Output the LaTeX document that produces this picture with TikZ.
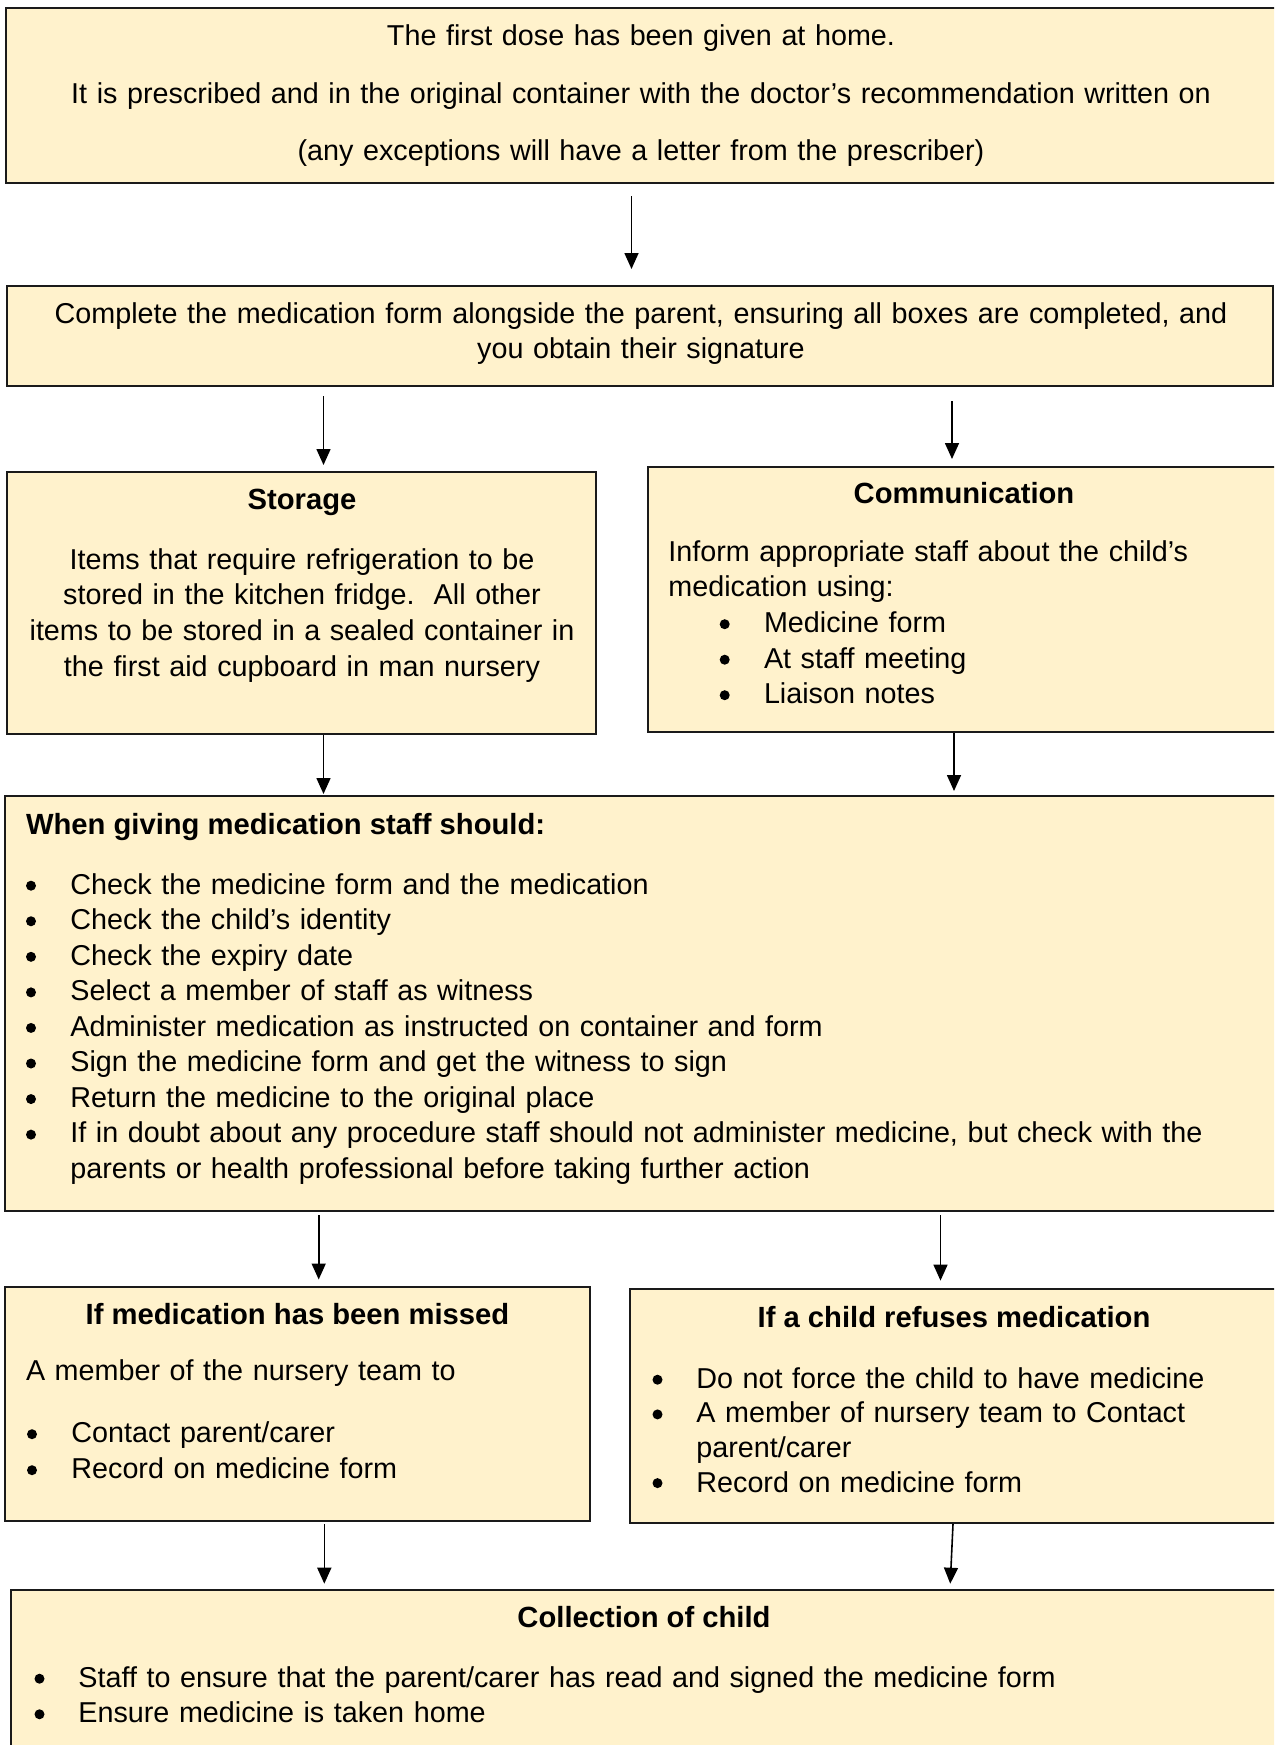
\documentclass[tikz,border=0pt]{standalone}
\usepackage{fontspec}
\setmainfont{Liberation Sans}
\usetikzlibrary{fit,arrows.meta}
\definecolor{boxfill}{HTML}{FFF2CC}
\definecolor{boxline}{HTML}{1A1A1A}
\begin{document}
\begin{tikzpicture}[x=0.5pt,y=-0.5pt,
  box/.style={draw=boxline, line width=1pt, fill=boxfill, inner sep=0pt},
  arr/.style={draw=black, line width=0.8pt, -{Triangle[width=7pt,length=8pt]}},
  ctr/.style={inner sep=0pt, text width=620pt, align=center, anchor=base, font=\fontsize{14.37}{17.78}\selectfont},
  lft/.style={inner sep=0pt, text width=600pt, align=left, anchor=base west, font=\fontsize{14.37}{17.78}\selectfont},
  ttl/.style={inner sep=0pt, anchor=base, font=\fontsize{14.6}{17.78}\selectfont\bfseries},
  bul/.style={fill=black}]
\useasboundingbox (0,0) rectangle (1274,1745);
\clip (0,0) rectangle (1274,1745);

% boxes
\node[box, fit={(6,8) (1290,183)}] (b1) {};
\node[box, fit={(7,286) (1273,386)}] (b2) {};
\node[box, fit={(7,472) (596,734)}] (stor) {};
\node[box, fit={(648,467) (1290,732)}] (comm) {};
\node[box, fit={(4.5,796) (1290,1210.5)}] (give) {};
\node[box, fit={(5,1287) (590,1521)}] (miss) {};
\node[box, fit={(630,1289) (1290,1523)}] (refu) {};
\node[box, fit={(11,1590) (1290,1800)}] (coll) {};

% texts
\node[ctr, font=\fontsize{14.37}{29}\selectfont] (t1) at (641,45) {The first dose has been given at home.\\
It is prescribed and in the original container with the doctor’s recommendation written on\\
(any exceptions will have a letter from the prescriber)};

\node[ctr] (t2) at (641,323) {Complete the medication form alongside the parent, ensuring all boxes are completed, and\\
you obtain their signature};

\node[ttl] (storT) at (302,509) {Storage};
\node[ctr, font=\fontsize{14.37}{17.9}\selectfont] (storB) at (302,569) {Items that require refrigeration to be\\
stored in the kitchen fridge.\ \ All other\\
items to be stored in a sealed container in\\
the first aid cupboard in man nursery};

\node[ttl] (commT) at (964,503) {Communication};
\node[lft] (commA) at (668,561) {Inform appropriate staff about the child’s\\
medication using:};
\node[lft] (commB) at (763.6,632.5) {Medicine form\\
At staff meeting\\
Liaison notes};
\foreach \yy in {632.5,668,703.5} \fill[bul] (724.7,\yy-8.3) circle[radius=2.5pt];

\node[ttl, anchor=base west] (giveT) at (25.6,834) {When giving medication staff should:};
\node[lft] (giveB) at (70,894) {Check the medicine form and the medication\\
Check the child’s identity\\
Check the expiry date\\
Select a member of staff as witness\\
Administer medication as instructed on container and form\\
Sign the medicine form and get the witness to sign\\
Return the medicine to the original place\\
If in doubt about any procedure staff should not administer medicine, but check with the\\
parents or health professional before taking further action};
\foreach \k in {0,...,7} \fill[bul] (31,894+35.56*\k-8.3) circle[radius=2.5pt];

\node[ttl] (missT) at (297.5,1324) {If medication has been missed};
\node[lft] (missA) at (25.6,1380) {A member of the nursery team to};
\node[lft, font=\fontsize{14.37}{18}\selectfont] (missB) at (71,1442.5) {Contact parent/carer\\
Record on medicine form};
\foreach \yy in {1442.5,1478.5} \fill[bul] (32,\yy-8.3) circle[radius=2.5pt];

\node[ttl] (refuT) at (954,1327.5) {If a child refuses medication};
\node[lft, font=\fontsize{14.37}{17.35}\selectfont] (refuB) at (696,1388) {Do not force the child to have medicine\\
A member of nursery team to Contact\\
parent/carer\\
Record on medicine form};
\foreach \yy in {1388,1422.7,1491.4} \fill[bul] (657.5,\yy-8.3) circle[radius=2.5pt];

\node[ttl] (collT) at (644,1627) {Collection of child};
\node[lft] (collB) at (78,1687) {Staff to ensure that the parent/carer has read and signed the medicine form\\
Ensure medicine is taken home};
\foreach \yy in {1687,1722.56} \fill[bul] (39.5,\yy-8.3) circle[radius=2.5pt];

% arrow x positions
\coordinate (xA) at (631.5,0);
\coordinate (xL2) at (323.5,0);
\coordinate (xR2) at (952,0);
\coordinate (xR3) at (954,0);
\coordinate (xL4) at (318.7,0);
\coordinate (xR4) at (940.5,0);
\coordinate (xL5) at (324.3,0);
\coordinate (xR5a) at (953,0);
\coordinate (xR5b) at (950,0);

% connectors
\draw[arr, shorten <=6pt, shorten >=8pt] (b1.south -| xA) -- (b2.north -| xA);
\draw[arr, shorten <=4.5pt, shorten >=3pt] (b2.south -| xL2) -- (stor.north -| xL2);
\draw[arr, shorten <=7pt, shorten >=3.5pt] (b2.south -| xR2) -- (comm.north -| xR2);
\draw[arr, shorten >=0.5pt] (stor.south -| xL2) -- (give.north -| xL2);
\draw[arr, shorten >=2pt] (comm.south -| xR3) -- (give.north -| xR3);
\draw[arr, shorten <=1.75pt, shorten >=3.25pt] (give.south -| xL4) -- (miss.north -| xL4);
\draw[arr, shorten <=1.75pt, shorten >=3.7pt] (give.south -| xR4) -- (refu.north -| xR4);
\draw[arr, shorten <=1pt, shorten >=2.65pt] (miss.south -| xL5) -- (coll.north -| xL5);
\draw[arr, shorten >=2.65pt] (refu.south -| xR5a) -- (coll.north -| xR5b);
\end{tikzpicture}
\end{document}
